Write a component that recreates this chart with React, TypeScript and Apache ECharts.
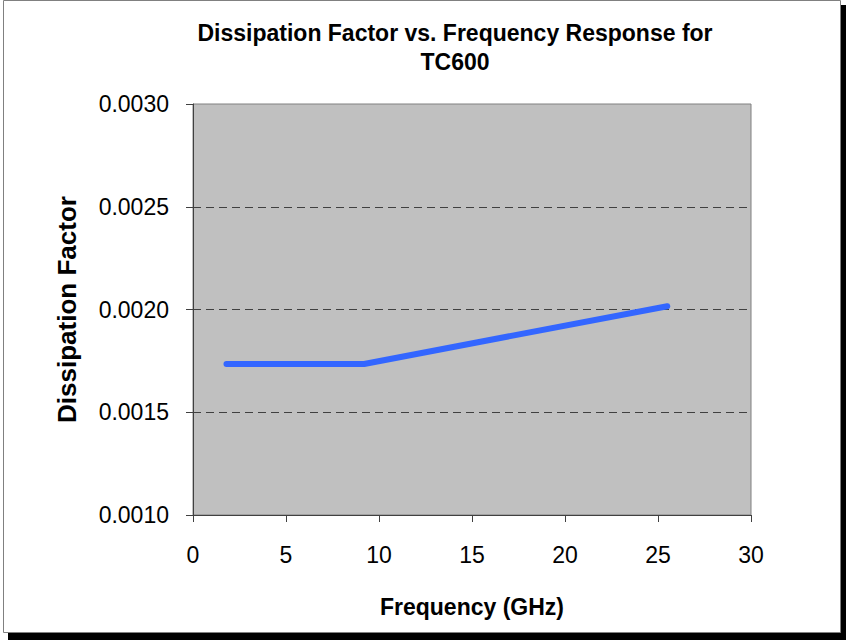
import React, { useEffect, useRef } from "react";
import * as echarts from "echarts";

const titleLines = ["Dissipation Factor vs. Frequency Response for", "TC600"];
const xAxisName = "Frequency (GHz)";
const yAxisName = "Dissipation Factor";
const frequencyGHz = [1.8, 9.2, 25.5];
const dissipationFactor = [0.001735, 0.001735, 0.002016];
const xRange = [0, 30, 5];
const yRange = [0.001, 0.003, 0.0005];

const FONT = "'Liberation Sans', Arial, Helvetica, sans-serif";

export default function App() {
  const ref = useRef<HTMLDivElement>(null);
  useEffect(() => {
    document.body.style.margin = "0";
    const chart = echarts.init(ref.current!, null, { renderer: "svg" });
    chart.setOption({
      animation: false,
      backgroundColor: "#ffffff",
      graphic: [
        { type: "rect", z: -10, shape: { x: 8, y: 5, width: 838, height: 635 }, style: { fill: "#000000" }, silent: true },
        { type: "rect", z: -9, shape: { x: 3.5, y: 0.5, width: 837, height: 632 }, style: { fill: "#ffffff", stroke: "#808080", lineWidth: 1 }, silent: true },
      ],
      title: {
        text: titleLines.join("\n"),
        left: 450,
        top: 13,
        textAlign: "center",
        textStyle: { fontFamily: FONT, fontWeight: "bold", fontSize: 23, lineHeight: 29, color: "#000" },
      },
      grid: {
        left: 193,
        top: 104,
        width: 558,
        height: 411,
        show: true,
        backgroundColor: "#c0c0c0",
        borderColor: "#808080",
        borderWidth: 1,
      },
      xAxis: {
        type: "value",
        min: xRange[0],
        max: xRange[1],
        interval: xRange[2],
        name: xAxisName,
        nameLocation: "middle",
        nameGap: 80,
        nameTextStyle: { fontFamily: FONT, fontWeight: "bold", fontSize: 23, color: "#000" },
        axisLine: { show: true, onZero: false, lineStyle: { color: "#404040", width: 1 } },
        axisTick: { show: true, length: 7, lineStyle: { color: "#404040" } },
        axisLabel: { margin: 28, fontFamily: FONT, fontSize: 23, color: "#000" },
        splitLine: { show: false },
      },
      yAxis: {
        type: "value",
        min: yRange[0],
        max: yRange[1],
        interval: yRange[2],
        name: yAxisName,
        nameLocation: "middle",
        nameRotate: 90,
        nameGap: 113,
        nameTextStyle: { fontFamily: FONT, fontWeight: "bold", fontSize: 26, color: "#000" },
        axisLine: { show: true, lineStyle: { color: "#404040", width: 1 } },
        axisTick: { show: true, length: 7, lineStyle: { color: "#404040" } },
        axisLabel: {
          margin: 24,
          fontFamily: FONT,
          fontSize: 23,
          color: "#000",
          formatter: (v: number) => v.toFixed(4),
        },
        splitLine: {
          show: true,
          showMinLine: false,
          showMaxLine: false,
          lineStyle: { color: "#404040", type: [8, 5], width: 1 },
        },
      },
      series: [
        {
          type: "line",
          data: frequencyGHz.map((f, i) => [f, dissipationFactor[i]]),
          showSymbol: false,
          symbol: "none",
          lineStyle: { color: "#3366ff", width: 6, cap: "round", join: "round" },
        },
      ],
    });
    return () => chart.dispose();
  }, []);
  return <div ref={ref} style={{ width: 846, height: 640 }} />;
}
